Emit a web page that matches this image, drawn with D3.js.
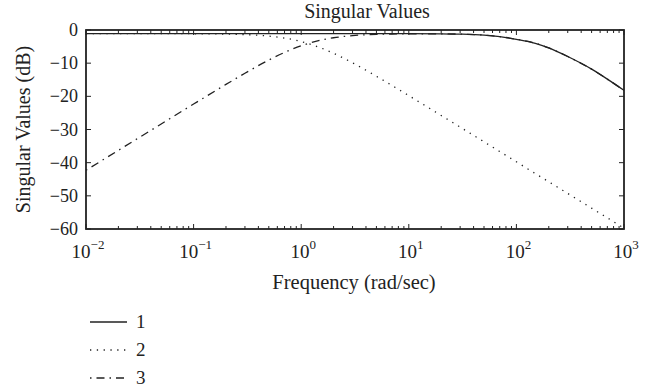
<!DOCTYPE html>
<html>
<head>
<meta charset="utf-8">
<script src="https://cdn.jsdelivr.net/npm/d3@7"></script>
<style>
  body { margin: 0; background: #fff; }
  svg text { font-family: "Liberation Serif", "Times New Roman", serif; fill: #222; }
</style>
</head>
<body>
<div id="chart"></div>
<script>
// singular values chart
const width = 656, height = 392;
const margin = { left: 86, right: 32, top: 30, bottom: 163 };

// frequencies (rad/sec) the values were read at
const freq = [0.01, 0.02, 0.05, 0.1, 0.2, 0.3, 0.5, 0.7, 1, 1.5, 2, 3, 5, 7, 10,
  20, 30, 50, 70, 100, 150, 200, 300, 500, 700, 1000];

// series 1 (solid)
const sv1 = [-1.1, -1.1, -1.1, -1.1, -1.1, -1.1, -1.1, -1.1, -1.1, -1.1, -1.1, -1.1, -1.1, -1.1, -1.1,
  -1.15, -1.25, -1.55, -2.0, -2.8, -4.0, -5.4, -8.0, -11.8, -14.8, -18.2];
// series 2 (dotted)
const sv2 = [-1.1, -1.1, -1.1, -1.13, -1.23, -1.38, -1.83, -2.43, -3.48, -5.32, -7.03, -9.89, -13.95, -16.76, -19.79,
  -25.77, -29.28, -33.72, -36.64, -39.74, -43.3, -45.76, -49.28, -53.72, -56.64, -59.74];
// series 3 (dash-dot)
const sv3 = [-42.3, -36.28, -28.33, -22.33, -16.41, -13.04, -9.07, -6.77, -4.75, -3.1, -2.34, -1.7, -1.32, -1.22, -1.16,
  -1.15, -1.25, -1.55, -2.0, -2.8, -4.0, -5.4, -8.0, -11.8, -14.8, -18.2];

const seriesNames = ["1", "2", "3"];
const seriesDash = [null, "1.3,5.5", "1.5,5,8,5"];
const yTicks = [0, -10, -20, -30, -40, -50, -60];
const xDecades = [0.01, 0.1, 1, 10, 100, 1000];
const xExponents = ["\u22122", "\u22121", "0", "1", "2", "3"];

const svg = d3.select("#chart").append("svg")
  .attr("width", width).attr("height", height);

const x = d3.scaleLog().domain([0.01, 1000]).range([margin.left, width - margin.right]);
const y = d3.scaleLinear().domain([-60, 0]).range([height - margin.bottom, margin.top]);

const x0 = x.range()[0], x1 = x.range()[1], y0 = y.range()[0], y1 = y.range()[1];

// minor ticks (2..9 per decade)
const minor = [];
xDecades.slice(0, -1).forEach(d => { for (let k = 2; k <= 9; k++) minor.push(d * k); });

const tickG = svg.append("g").attr("stroke", "#222").attr("stroke-width", 1);
// x ticks, bottom and top, pointing inward
tickG.selectAll("line.xmaj").data(xDecades).join("line")
  .attr("x1", d => x(d)).attr("x2", d => x(d))
  .attr("y1", y0).attr("y2", y0 - 5);
tickG.selectAll("line.xmajt").data(xDecades).join("line")
  .attr("x1", d => x(d)).attr("x2", d => x(d))
  .attr("y1", y1).attr("y2", y1 + 5);
tickG.selectAll("line.xmin").data(minor).join("line")
  .attr("x1", d => x(d)).attr("x2", d => x(d))
  .attr("y1", y0).attr("y2", y0 - 3);
tickG.selectAll("line.xmint").data(minor).join("line")
  .attr("x1", d => x(d)).attr("x2", d => x(d))
  .attr("y1", y1).attr("y2", y1 + 3);
// y ticks, left and right
tickG.selectAll("line.yl").data(yTicks).join("line")
  .attr("x1", x0).attr("x2", x0 + 5)
  .attr("y1", d => y(d)).attr("y2", d => y(d));
tickG.selectAll("line.yr").data(yTicks).join("line")
  .attr("x1", x1).attr("x2", x1 - 5)
  .attr("y1", d => y(d)).attr("y2", d => y(d));

// curves
const line = d3.line()
  .x((d, i) => x(freq[i]))
  .y(d => y(d))
  .curve(d3.curveMonotoneX);

[sv1, sv2, sv3].forEach((s, i) => {
  svg.append("path")
    .datum(s)
    .attr("d", line)
    .attr("fill", "none")
    .attr("stroke", "#222")
    .attr("stroke-width", 1.3)
    .attr("stroke-dasharray", seriesDash[i]);
});

// frame
svg.append("rect")
  .attr("x", x0).attr("y", y1)
  .attr("width", x1 - x0).attr("height", y0 - y1)
  .attr("fill", "none").attr("stroke", "#222").attr("stroke-width", 1.8);

// y tick labels
svg.selectAll("text.ytick").data(yTicks).join("text")
  .attr("x", x0 - 8).attr("y", d => y(d) + 6)
  .attr("text-anchor", "end")
  .attr("font-size", 18)
  .text(d => d === 0 ? "0" : "\u2212" + Math.abs(d));

// x tick labels with superscript exponent
const xt = svg.selectAll("text.xtick").data(xDecades).join("text")
  .attr("x", d => x(d) + 2).attr("y", y0 + 29)
  .attr("text-anchor", "middle")
  .attr("font-size", 19);
xt.append("tspan").text("10");
xt.append("tspan").attr("dy", -9).attr("font-size", 13).text((d, i) => xExponents[i]);

// titles
svg.append("text")
  .attr("x", 367).attr("y", 18)
  .attr("text-anchor", "middle").attr("font-size", 20)
  .text("Singular Values");
svg.append("text")
  .attr("x", 354).attr("y", 289)
  .attr("text-anchor", "middle").attr("font-size", 20.5)
  .text("Frequency (rad/sec)");
svg.append("text")
  .attr("transform", "translate(30," + (y0 + y1) / 2 + ") rotate(-90)")
  .attr("text-anchor", "middle").attr("font-size", 20)
  .text("Singular Values (dB)");

// legend
const leg = svg.append("g").selectAll("g").data(seriesNames).join("g")
  .attr("transform", (d, i) => "translate(90," + (322 + i * 28) + ")");
leg.append("line")
  .attr("x1", 0).attr("x2", 37).attr("y1", 0).attr("y2", 0)
  .attr("stroke", "#222").attr("stroke-width", 1.3)
  .attr("stroke-dasharray", (d, i) => seriesDash[i]);
leg.append("text")
  .attr("x", 46).attr("y", 6).attr("font-size", 19)
  .text(d => d);
</script>
</body>
</html>
